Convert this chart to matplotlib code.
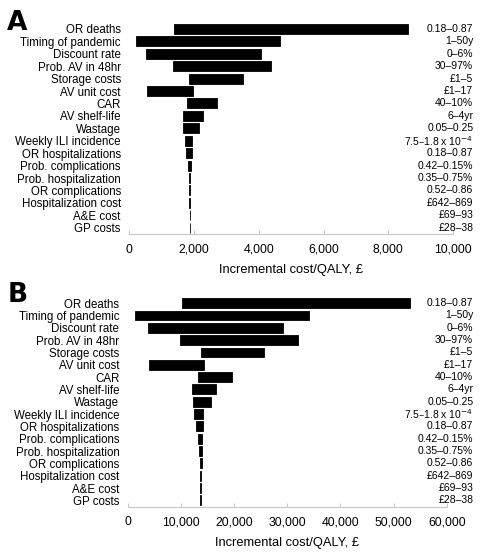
import matplotlib.pyplot as plt
import matplotlib.transforms as mtransforms
from matplotlib.ticker import FuncFormatter

params = ['OR deaths', 'Timing of pandemic', 'Discount rate', 'Prob. AV in 48hr',
          'Storage costs', 'AV unit cost', 'CAR', 'AV shelf-life', 'Wastage',
          'Weekly ILI incidence', 'OR hospitalizations', 'Prob. complications',
          'Prob. hospitalization', 'OR complications', 'Hospitalization cost',
          'A&E cost', 'GP costs']
ranges = ['0.18\u20130.87', '1\u201350y', '0\u20136%', '30\u201397%', '\u00a31\u20135',
          '\u00a31\u201317', '40\u201310%', '6\u20134yr', '0.05\u20130.25',
          '7.5\u20131.8 x 10$^{-4}$', '0.18\u20130.87', '0.42\u20130.15%',
          '0.35\u20130.75%', '0.52\u20130.86', '\u00a3642\u2013869', '\u00a369\u201393',
          '\u00a328\u201338']

# panel A: low / high incremental cost per QALY
a_low = [1390, 210, 520, 1350, 1860, 560, 1800, 1660, 1670, 1730, 1760, 1820,
         1840, 1850, 1860, 1865, 1865]
a_high = [8620, 4660, 4060, 4370, 3510, 1980, 2710, 2270, 2150, 1950, 1930, 1910,
          1890, 1890, 1880, 1880, 1880]

# panel B
b_low = [10300, 1400, 3900, 9800, 13700, 4100, 13200, 12000, 12200, 12500, 12900,
         13200, 13400, 13500, 13600, 13650, 13650]
b_high = [53000, 34100, 29200, 32000, 25600, 14400, 19700, 16600, 15600, 14200,
          14100, 14000, 13900, 13900, 13800, 13780, 13780]

plt.rcParams['font.family'] = ['Liberation Sans', 'DejaVu Sans']

fig = plt.figure(figsize=(4.8, 5.53), dpi=100)
axA = fig.add_axes([0.269, 0.577, 0.675, 0.382])
axB = fig.add_axes([0.266, 0.084, 0.665, 0.379])


def draw(ax, low, high, xmax, step):
    y = range(len(params))
    widths = [h - l for l, h in zip(low, high)]
    ax.barh(y, widths, left=low, height=0.8, color='black',
            edgecolor='black', linewidth=0.6)
    ax.set_ylim(len(params) - 0.5, -0.5)
    ax.set_xlim(0, xmax)
    ax.set_xticks(range(0, xmax + 1, step))
    ax.xaxis.set_major_formatter(FuncFormatter(lambda v, p: f'{int(v):,}'))
    ax.set_yticks(list(y))
    ax.set_yticklabels(params, fontsize=8.3)
    ax.tick_params(axis='y', length=0, pad=6)
    ax.tick_params(axis='x', direction='in', length=3, color='#c8c8c8', labelsize=8.8,
                   pad=7)
    for s in ['top', 'right', 'left']:
        ax.spines[s].set_visible(False)
    ax.spines['bottom'].set_color('#c8c8c8')
    ax.set_xlabel('Incremental cost/QALY, \u00a3', fontsize=9.3, labelpad=6)
    trans = mtransforms.blended_transform_factory(fig.transFigure, ax.transData)
    for i, r in enumerate(ranges):
        ax.text(0.986, i, r, transform=trans, ha='right', va='center', fontsize=7.5)


draw(axA, a_low, a_high, 10000, 2000)
draw(axB, b_low, b_high, 60000, 10000)

fig.text(0.015, 0.982, 'A', fontsize=19, fontweight='heavy', family='DejaVu Sans',
         va='top')
fig.text(0.015, 0.49, 'B', fontsize=19, fontweight='heavy', family='DejaVu Sans',
         va='top')

fig.savefig('out.png', dpi=100)
